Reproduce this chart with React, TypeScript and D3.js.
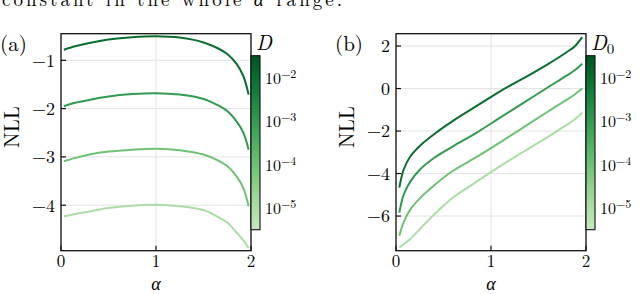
import * as d3 from "d3";

// panel (a): NLL vs alpha for four values of D
const alphaA = [0.03, 0.15, 0.3, 0.5, 0.75, 1.0, 1.25, 1.5, 1.65, 1.75, 1.85, 1.92, 1.975];
const nllA1 = [-0.78, -0.71, -0.64, -0.57, -0.52, -0.5, -0.53, -0.63, -0.75, -0.87, -1.08, -1.33, -1.71];
const nllA2 = [-1.95, -1.88, -1.82, -1.75, -1.7, -1.68, -1.71, -1.8, -1.93, -2.05, -2.27, -2.5, -2.85];
const nllA3 = [-3.09, -3.02, -2.95, -2.89, -2.85, -2.83, -2.86, -2.95, -3.07, -3.19, -3.41, -3.65, -4.02];
const nllA4 = [-4.23, -4.18, -4.13, -4.06, -4.01, -3.99, -4.02, -4.1, -4.24, -4.36, -4.57, -4.73, -4.89];

// panel (b): NLL vs alpha for four values of D0
const alphaB = [0.035, 0.08, 0.15, 0.25, 0.4, 0.6, 0.85, 1.1, 1.35, 1.6, 1.8, 1.88, 1.96];
const nllB1 = [-4.66, -3.82, -3.2, -2.7, -2.15, -1.52, -0.82, -0.12, 0.5, 1.15, 1.72, 1.98, 2.42];
const nllB2 = [-5.84, -5.0, -4.38, -3.82, -3.27, -2.72, -2.07, -1.36, -0.65, 0.06, 0.62, 0.86, 1.17];
const nllB3 = [-6.93, -6.3, -5.7, -5.17, -4.56, -3.87, -3.22, -2.52, -1.8, -1.08, -0.52, -0.28, 0.0];
const nllB4 = [-7.48, -7.33, -7.08, -6.62, -5.94, -5.13, -4.38, -3.64, -2.95, -2.27, -1.7, -1.46, -1.14];

const logD = [-2, -3, -4, -5]; // exponent of D (or D0) for each curve, dark to light
const yTicksA = [-1, -2, -3, -4];
const yTicksB = [2, 0, -2, -4, -6];
const xTicks = [0, 1, 2];
const cbTicks = [-2, -3, -4, -5];

const FONT = "'Latin Modern Roman', 'CMU Serif', 'Liberation Serif', serif";
const PLOT_TOP = 33.7;
const PLOT_BOTTOM = 250.7;
const CB_TOP = 55.7;
const CB_BOTTOM = 229.7;
const CB_W = 9;

const colorT = d3.scaleLinear().domain([-5.5, -1.5]).range([0.25, 0.95]);
const greens = (e: number) => d3.interpolateGreens(colorT(e));

const fmt = (v: number) => (v < 0 ? "\u2212" + Math.abs(v) : String(v));

function Panel({ left, tag, alpha, series, yDomain, yTicks, cbLabel, gradId }) {
  const right = left + 190;
  const x = d3.scaleLinear().domain([0, 2]).range([left, right]);
  const y = d3.scaleLinear().domain(yDomain).range([PLOT_BOTTOM, PLOT_TOP]);
  const line = d3
    .line<number>()
    .x((_, i) => x(alpha[i]))
    .y((d) => y(d))
    .curve(d3.curveCatmullRom.alpha(0.5));
  const cb = d3.scaleLinear().domain([-5.5, -1.5]).range([CB_BOTTOM, CB_TOP]);
  const stops = d3.range(0, 1.0001, 0.1);

  return (
    <g fontFamily={FONT}>
      <defs>
        <linearGradient id={gradId} x1="0" y1="1" x2="0" y2="0">
          {stops.map((s) => (
            <stop key={s} offset={s} stopColor={greens(-5.5 + 4 * s)} />
          ))}
        </linearGradient>
      </defs>
      {/* grid */}
      {yTicks.map((t) => (
        <line key={"gy" + t} x1={left} x2={right} y1={y(t)} y2={y(t)} stroke="#e3e3e3" strokeWidth={1} />
      ))}
      {xTicks.map((t) => (
        <line key={"gx" + t} x1={x(t)} x2={x(t)} y1={PLOT_TOP} y2={PLOT_BOTTOM} stroke="#e3e3e3" strokeWidth={1} />
      ))}
      {/* curves */}
      {series.map((s, i) => (
        <path key={i} d={line(s)} fill="none" stroke={greens(logD[i])} strokeWidth={2} />
      ))}
      {/* frame */}
      <rect x={left} y={PLOT_TOP} width={right - left} height={PLOT_BOTTOM - PLOT_TOP} fill="none" stroke="#111" strokeWidth={1.3} />
      {/* ticks */}
      {yTicks.map((t) => (
        <g key={"ty" + t}>
          <line x1={left} x2={left + 5} y1={y(t)} y2={y(t)} stroke="#111" strokeWidth={1.2} />
          <text x={left - 6} y={y(t)} dy="0.35em" textAnchor="end" fontSize={18}>
            {fmt(t)}
          </text>
        </g>
      ))}
      {xTicks.map((t) => (
        <g key={"tx" + t}>
          <line x1={x(t)} x2={x(t)} y1={PLOT_BOTTOM} y2={PLOT_BOTTOM - 5} stroke="#111" strokeWidth={1.2} />
          <text x={x(t)} y={267} textAnchor="middle" fontSize={17}>
            {fmt(t)}
          </text>
        </g>
      ))}
      <text x={(left + right) / 2} y={290} textAnchor="middle" fontSize={18} fontStyle="italic">
        α
      </text>
      <text
        transform={`translate(${left - 49},${127}) rotate(-90)`}
        textAnchor="middle"
        dy="0.35em"
        fontSize={21}
      >
        NLL
      </text>
      <text x={left - 61} y={51} fontSize={21}>
        {tag}
      </text>
      {/* colorbar */}
      <rect x={right} y={CB_TOP} width={CB_W} height={CB_BOTTOM - CB_TOP} fill={`url(#${gradId})`} stroke="#111" strokeWidth={1.1} />
      {cbTicks.map((t) => (
        <text key={"cb" + t} x={right + 14} y={cb(t)} dy="0.4em" fontSize={16}>
          10
          <tspan dy="-0.5em" fontSize={12}>
            {fmt(t)}
          </tspan>
        </text>
      ))}
      <text x={right + 5} y={50} fontSize={21} fontStyle="italic">
        D
        {cbLabel === "D0" && (
          <tspan dy="0.25em" fontSize={15} fontStyle="normal">
            0
          </tspan>
        )}
      </text>
    </g>
  );
}

export default function App() {
  return (
    <svg width={640} height={294} style={{ display: "block", position: "absolute", left: 0, top: 0 }}>
      <rect width={640} height={294} fill="#fff" />
      <text x={2} y={6} fontFamily={FONT} fontSize={19} textLength={340} lengthAdjust="spacing">
        constant in the whole <tspan fontStyle="italic">α</tspan> range.
      </text>
      <Panel
        left={61}
        tag="(a)"
        alpha={alphaA}
        series={[nllA1, nllA2, nllA3, nllA4]}
        yDomain={[-4.942, -0.449]}
        yTicks={yTicksA}
        cbLabel="D"
        gradId="cbA"
      />
      <Panel
        left={396}
        tag="(b)"
        alpha={alphaB}
        series={[nllB1, nllB2, nllB3, nllB4]}
        yDomain={[-7.63, 2.58]}
        yTicks={yTicksB}
        cbLabel="D0"
        gradId="cbB"
      />
    </svg>
  );
}
